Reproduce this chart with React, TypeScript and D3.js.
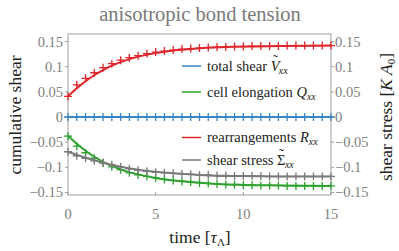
import { scaleLinear, line, curveMonotoneX } from 'd3';

// times of the simulation markers (every 0.5 tau)
const markerTimes = [
  0, 0.5, 1, 1.5, 2, 2.5, 3, 3.5, 4, 4.5, 5, 5.5, 6, 6.5, 7, 7.5, 8, 8.5, 9, 9.5,
  10, 10.5, 11, 11.5, 12, 12.5, 13, 13.5, 14, 14.5, 15,
];
const totalShearMarks = [
  0, 0, 0, 0, 0, 0, 0, 0, 0, 0, 0, 0, 0, 0, 0, 0, 0, 0, 0, 0, 0, 0, 0, 0, 0, 0, 0, 0, 0, 0, 0,
];
const rearrangementMarks = [
  0.041, 0.064, 0.077, 0.088, 0.098, 0.106, 0.113, 0.118, 0.122, 0.126, 0.129, 0.131,
  0.133, 0.135, 0.136, 0.137, 0.138, 0.139, 0.139, 0.14, 0.14, 0.141, 0.141, 0.141,
  0.141, 0.142, 0.142, 0.142, 0.142, 0.142, 0.142,
];
const elongationMarks = [
  -0.038, -0.058, -0.071, -0.082, -0.091, -0.099, -0.105, -0.111, -0.115, -0.118,
  -0.121, -0.124, -0.126, -0.128, -0.129, -0.131, -0.132, -0.133, -0.134, -0.134,
  -0.135, -0.135, -0.136, -0.136, -0.136, -0.137, -0.137, -0.137, -0.137, -0.137, -0.137,
];
const stressMarks = [
  -0.069, -0.077, -0.082, -0.087, -0.091, -0.095, -0.099, -0.103, -0.106, -0.108,
  -0.11, -0.111, -0.112, -0.113, -0.114, -0.115, -0.115, -0.116, -0.116, -0.117,
  -0.117, -0.117, -0.117, -0.118, -0.118, -0.118, -0.118, -0.118, -0.118, -0.118, -0.118,
];

// smooth fit curves
const curveTimes = [0, 0.5, 1, 1.5, 2, 2.5, 3, 4, 5, 6, 7, 8, 9, 10, 12, 15];
const totalShearCurve = [0, 0, 0, 0, 0, 0, 0, 0, 0, 0, 0, 0, 0, 0, 0, 0];
const rearrangementCurve = [
  0.041, 0.057, 0.071, 0.083, 0.093, 0.102, 0.109, 0.12, 0.127, 0.132, 0.135, 0.138,
  0.139, 0.14, 0.141, 0.142,
];
const elongationCurve = [
  -0.037, -0.053, -0.067, -0.079, -0.089, -0.097, -0.104, -0.114, -0.121, -0.126,
  -0.129, -0.132, -0.134, -0.135, -0.136, -0.137,
];
const stressCurve = [
  -0.069, -0.075, -0.081, -0.086, -0.091, -0.095, -0.099, -0.105, -0.109, -0.112,
  -0.114, -0.116, -0.117, -0.117, -0.118, -0.118,
];

const xTicks = [0, 5, 10, 15];
const yTicks = [-0.15, -0.1, -0.05, 0, 0.05, 0.1, 0.15];

const series = [
  { name: 'total shear', sym: 'V', italic: true, tilde: true, color: '#3a84c2', marks: totalShearMarks, curve: totalShearCurve },
  { name: 'cell elongation', sym: 'Q', italic: true, tilde: false, color: '#2ea12e', marks: elongationMarks, curve: elongationCurve },
  { name: 'rearrangements', sym: 'R', italic: true, tilde: false, color: '#e0252b', marks: rearrangementMarks, curve: rearrangementCurve },
  { name: 'shear stress', sym: '\u03a3', italic: false, tilde: true, color: '#7a7a7a', marks: stressMarks, curve: stressCurve },
];
const legendRows = [66, 92, 137.5, 160];
const drawOrder = [1, 3, 2, 0];

const W = 399;
const H = 251;
const margin = { left: 68, right: 68, top: 34, bottom: 56 };
const font = 'Liberation Serif';
const frameColor = '#a0a0a0';
const tickColor = '#808080';

const fmt = (v: number) => {
  if (v === 0) return '0';
  return (v < 0 ? '\u2212' : '') + Math.abs(v).toString();
};

const App = () => {
  const x = scaleLinear().domain([0, 15]).range([margin.left, W - margin.right]);
  const y = scaleLinear().domain([-0.155, 0.165]).range([H - margin.bottom, margin.top]);
  const lineGen = line<number>()
    .x((d, i) => x(curveTimes[i]))
    .y((d) => y(d))
    .curve(curveMonotoneX);
  const plus = (cx: number, cy: number) =>
    `M${cx - 4},${cy}H${cx + 4}M${cx},${cy - 4}V${cy + 4}`;

  return (
    <svg width={W} height={H} fontFamily={font}
      style={{ display: 'block', position: 'absolute', left: 0, top: 0, background: '#fff' }}>
      <text x={200} y={21} textAnchor="middle" fontSize={20.5} fill="#7a7a7a">
        anisotropic bond tension
      </text>

      <rect x={x(0)} y={margin.top} width={x(15) - x(0)} height={H - margin.bottom - margin.top}
        fill="none" stroke={frameColor} />

      {yTicks.map((t) => (
        <g key={t}>
          <line x1={x(0) - 3} x2={x(0)} y1={y(t)} y2={y(t)} stroke={frameColor} />
          <line x1={x(15)} x2={x(15) + 3} y1={y(t)} y2={y(t)} stroke={frameColor} />
          <text x={x(0) - 5} y={y(t) + 5} textAnchor="end" fontSize={14.5} fill={tickColor}>{fmt(t)}</text>
          <text x={x(15) + 4} y={y(t) + 5} fontSize={14.5} fill={tickColor}>{fmt(t)}</text>
        </g>
      ))}
      {xTicks.map((t) => (
        <g key={t}>
          <line x1={x(t)} x2={x(t)} y1={H - margin.bottom} y2={H - margin.bottom - 3} stroke={frameColor} />
          <text x={x(t)} y={219} textAnchor="middle" fontSize={14.5} fill={tickColor}>{t}</text>
        </g>
      ))}

      <text transform="translate(21,115) rotate(-90)" textAnchor="middle" fontSize={17.5} fill="#222">
        cumulative shear
      </text>
      <text transform="translate(392,117) rotate(-90)" textAnchor="middle" fontSize={17.5} fill="#222">
        shear stress [<tspan fontStyle="italic">K A</tspan>
        <tspan fontSize={11} dy={3}>0</tspan>
        <tspan dy={-3}>]</tspan>
      </text>
      <text x={200} y={243} textAnchor="middle" fontSize={17.5} fill="#222">
        time [<tspan fontStyle="italic">{'\u03c4'}</tspan>
        <tspan fontSize={11} dy={3}>{'\u039b'}</tspan>
        <tspan dy={-3}>]</tspan>
      </text>

      {drawOrder.map((k) => {
        const s = series[k];
        return (
          <g key={s.name}>
            <path d={lineGen(s.curve) ?? ''} fill="none" stroke={s.color} strokeWidth={2} />
            {s.marks.map((v, i) => (
              <path key={i} d={plus(x(markerTimes[i]), y(v))} stroke={s.color} strokeWidth={1.3} fill="none" />
            ))}
          </g>
        );
      })}

      {series.map((s, i) => (
        <g key={s.name}>
          <line x1={182} x2={201} y1={legendRows[i]} y2={legendRows[i]} stroke={s.color} strokeWidth={1.5} />
          <text x={207} y={legendRows[i] + 4.5} fontSize={14.5} fill="#222">
            {s.name + ' '}
            <tspan fontStyle={s.italic ? 'italic' : 'normal'}>{s.sym}</tspan>
            {s.tilde ? <tspan dx={-6.5} dy={-5.5}>{'\u02dc'}</tspan> : null}
            <tspan fontStyle="italic" fontSize={10} dx={s.tilde ? 1 : 0} dy={s.tilde ? 8.5 : 3}>xx</tspan>
          </text>
        </g>
      ))}
    </svg>
  );
};

export default App;
